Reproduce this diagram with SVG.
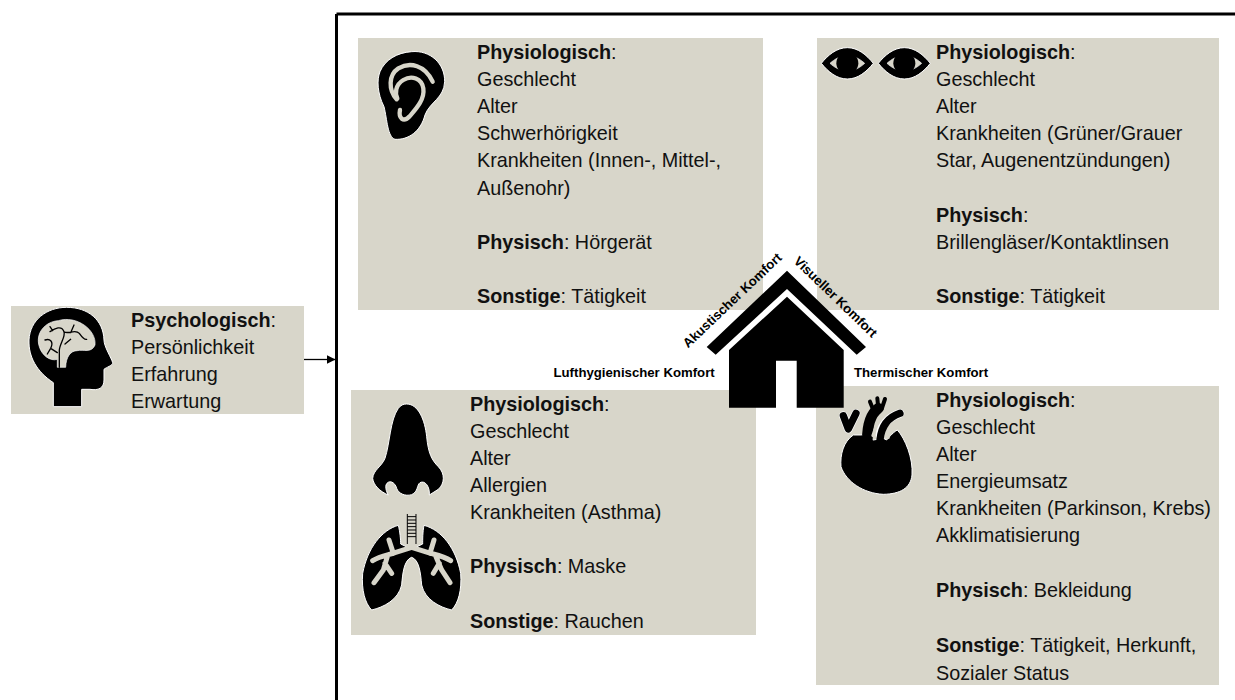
<svg xmlns="http://www.w3.org/2000/svg" width="1235" height="700" viewBox="0 0 1235 700">
<style>
.box{fill:#d8d6ca}
text{font-family:"Liberation Sans",Arial,sans-serif;fill:#111}
.t{font-size:19.8px;transform:translate(0,1px)}
.h{font-weight:bold}
.l{font-size:13.2px;font-weight:bold;fill:#000}
.ic{fill:#000;stroke:#fff;stroke-width:3;stroke-linejoin:round}
.lt{fill:none;stroke:#d8d6ca;stroke-linecap:round;stroke-linejoin:round}
.bk{fill:none;stroke:#000;stroke-linecap:round;stroke-linejoin:round}
</style>
<defs>
<marker id="arr" markerUnits="userSpaceOnUse" markerWidth="10" markerHeight="10" refX="9" refY="4.500" orient="auto"><path d="M0 0L9 4.500L0 9Z" fill="#000"/></marker>
<g id="eye"><path d="M-78 0C-58 -25 -32 -47 0 -47C32 -47 58 -25 78 0C58 25 32 47 0 47C-32 47 -58 25 -78 0Z" class="ic"/><path d="M-52 0C-38 -13 -20 -23 0 -23C20 -23 38 -13 52 0C38 13 20 23 0 23C-20 23 -38 13 -52 0Z" fill="#d8d6ca" stroke="#fff" stroke-width="2"/><circle r="33" fill="#000"/></g>
</defs>
<g id="connectors">
<path d="M336.500 14H1235M336.500 14V700" fill="none" stroke="#000" stroke-width="3"/>
<path d="M304 359.500H335.500" fill="none" stroke="#000" stroke-width="1.300" marker-end="url(#arr)"/>
</g>
<g id="psych">
<rect class="box" x="11" y="306" width="293" height="108"/>
<g transform="translate(0 290) scale(.3333)">
<path class="ic" d="M160 350L160 278C110 245 85 200 87 150C90 90 140 52 200 52C265 52 310 90 312 150C312 170 335 205 338 218C340 226 318 232 312 238L312 270C312 295 295 302 270 298L245 298L245 350Z"/>
<path fill="#d8d6ca" stroke="#fff" stroke-width="2" d="M172 232L172 208C150 215 125 195 118 170C105 130 135 95 175 92C230 75 290 120 285 165C275 190 250 178 232 182C212 182 198 200 197 232Z"/>
<path class="bk" stroke-width="4" d="M150 125C165 115 185 105 192 125C197 140 180 160 178 180L178 232M192 125C205 135 225 115 238 130C245 140 252 150 260 148M212 128L222 105M135 150C150 145 162 155 152 175L142 192M152 175L172 188M195 162L212 148M150 110L158 122"/>
</g>
<text class="t"><tspan x="131" y="326" class="h">Psychologisch</tspan><tspan>:</tspan><tspan x="131" y="353">Persönlichkeit</tspan><tspan x="131" y="380">Erfahrung</tspan><tspan x="131" y="407">Erwartung</tspan></text>
</g>
<g id="akustisch">
<rect class="box" x="358" y="38" width="405" height="272"/>
<g transform="translate(350 0) scale(.3333)">
<path class="ic" d="M185 155C240 150 285 190 284 245C282 295 240 305 225 345C212 395 175 420 135 418C112 410 112 360 102 320C82 280 80 240 90 215C105 180 140 158 185 155Z"/>
<path class="lt" stroke-width="13" d="M140 298C115 270 115 225 145 205C180 185 225 195 248 245"/>
<path class="lt" stroke-width="13" d="M150 330C145 355 160 368 178 350C195 330 225 300 220 265C215 235 185 225 160 240C135 255 135 280 142 295"/>
</g>
<text class="t"><tspan x="477" y="58" class="h">Physiologisch</tspan><tspan>:</tspan><tspan x="477" y="85">Geschlecht</tspan><tspan x="477" y="112">Alter</tspan><tspan x="477" y="139">Schwerhörigkeit</tspan><tspan x="477" y="166">Krankheiten (Innen-, Mittel-,</tspan><tspan x="477" y="194">Außenohr)</tspan><tspan x="477" y="248" class="h">Physisch</tspan><tspan>: Hörgerät</tspan><tspan x="477" y="302" class="h">Sonstige</tspan><tspan>: Tätigkeit</tspan></text>
</g>
<g id="visuell">
<rect class="box" x="817" y="38" width="402" height="272"/>
<g transform="translate(810 30) scale(.3333)">
<use href="#eye" x="112" y="100"/><use href="#eye" x="283" y="100"/>
</g>
<text class="t"><tspan x="936" y="58" class="h">Physiologisch</tspan><tspan>:</tspan><tspan x="936" y="85">Geschlecht</tspan><tspan x="936" y="112">Alter</tspan><tspan x="936" y="139">Krankheiten (Grüner/Grauer</tspan><tspan x="936" y="166">Star, Augenentzündungen)</tspan><tspan x="936" y="221" class="h">Physisch</tspan><tspan>:</tspan><tspan x="936" y="248">Brillengläser/Kontaktlinsen</tspan><tspan x="936" y="302" class="h">Sonstige</tspan><tspan>: Tätigkeit</tspan></text>
</g>
<g id="luft">
<rect class="box" x="351" y="390" width="405" height="245"/>
<g transform="translate(350 400) scale(.3333)">
<path class="ic" d="M170 12C205 12 225 60 230 110C235 160 245 180 265 200C285 220 285 250 265 268L238 285C240 260 225 240 210 248C200 255 205 275 185 284C165 290 145 280 140 265C135 245 115 238 108 255C105 270 115 285 115 285C90 275 70 255 68 235C70 210 95 200 105 175C120 130 120 60 145 25C153 15 160 12 170 12Z"/>
<path class="ic" d="M145 376C150 395 152 420 152 432L185 448L218 432C218 420 218 395 222 376C275 390 318 445 332 520C336 570 325 610 305 630C270 622 225 600 215 555C212 520 208 480 185 472C162 480 158 520 155 555C145 600 100 622 65 630C45 610 34 570 38 520C52 445 95 390 145 376Z"/>
<path d="M172 342V432M198 342V432M172 350H198M172 360H198M172 370H198M172 380H198M172 390H198M172 400H198M172 410H198" stroke="#000" stroke-width="3" fill="none"/>
<path class="lt" stroke-width="15" d="M185 442L135 458C115 465 90 468 68 482M130 460L117 420M112 470L100 510L72 548M105 490L125 520M185 442L235 458C260 465 280 468 302 482M240 460L252 420M258 470L275 510L300 548M268 490L250 520"/>
</g>
<text class="t"><tspan x="470" y="410" class="h">Physiologisch</tspan><tspan>:</tspan><tspan x="470" y="437">Geschlecht</tspan><tspan x="470" y="464">Alter</tspan><tspan x="470" y="491">Allergien</tspan><tspan x="470" y="518">Krankheiten (Asthma)</tspan><tspan x="470" y="572" class="h">Physisch</tspan><tspan>: Maske</tspan><tspan x="470" y="627" class="h">Sonstige</tspan><tspan>: Rauchen</tspan></text>
</g>
<g id="thermisch">
<rect class="box" x="816" y="386" width="403" height="299"/>
<g transform="translate(820 385) scale(.3333)">
<path d="M70 92L85 132L108 85M142 155C142 110 155 85 175 70M180 150C185 115 210 95 240 85" fill="none" stroke="#fff" stroke-width="26" stroke-linecap="round" stroke-linejoin="round"/>
<path class="ic" d="M100 150C70 170 60 210 63 245C78 290 130 325 190 328C240 327 272 310 276 270C280 220 255 160 232 135C215 145 205 160 200 165L190 160L160 165L125 150Z"/>
<path class="bk" stroke-width="22" d="M70 92L85 132L108 85"/>
<path class="bk" stroke-width="32" d="M142 165C142 110 155 85 175 70"/>
<path class="bk" stroke-width="12" d="M150 50L160 75M172 40L175 70M195 42L185 72"/>
<path class="bk" stroke-width="22" d="M180 165C185 115 210 95 240 85"/>
<path class="lt" stroke-width="8" d="M158 152C165 125 178 105 195 90M205 158C208 140 215 125 228 112"/>
</g>
<text class="t"><tspan x="936" y="406" class="h">Physiologisch</tspan><tspan>:</tspan><tspan x="936" y="433">Geschlecht</tspan><tspan x="936" y="460">Alter</tspan><tspan x="936" y="487">Energieumsatz</tspan><tspan x="936" y="514">Krankheiten (Parkinson, Krebs)</tspan><tspan x="936" y="541">Akklimatisierung</tspan><tspan x="936" y="596" class="h">Physisch</tspan><tspan>: Bekleidung</tspan><tspan x="936" y="651" class="h">Sonstige</tspan><tspan>: Tätigkeit, Herkunft,</tspan><tspan x="936" y="679">Sozialer Status</tspan></text>
</g>
<g id="haus">
<path fill="#000" d="M787 270.700L866 347L856.700 354.700L787 289L715.700 354.700L706.700 347Z"/>
<path fill="#000" d="M787 296.700L843.700 350V407.700H796.700V360.700H776V407.700H729V350Z"/>
<text class="l" transform="translate(688 348.500) rotate(-43.500)">Akustischer Komfort</text>
<text class="l" transform="translate(793 262) rotate(44)">Visueller Komfort</text>
<text class="l" x="553.500" y="377">Lufthygienischer Komfort</text>
<text class="l" x="854" y="377">Thermischer Komfort</text>
</g>
</svg>
